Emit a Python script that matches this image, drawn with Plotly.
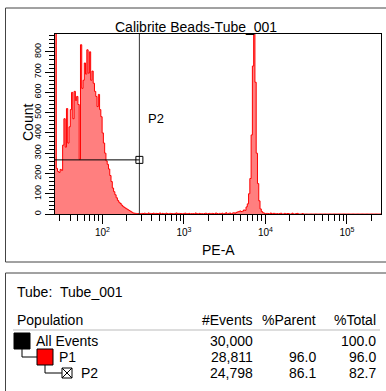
import numpy as np
import plotly.graph_objects as go

# ---------------- data ----------------
TITLE = "Calibrite Beads-Tube_001"
X_LABEL = "PE-A"
Y_LABEL = "Count"

LOG_MIN, LOG_MAX = 1.418, 5.418     # display range of PE-A (log10)
N_BINS = 256
Y_MAX = 888

# histogram counts per bin
counts_left = [2500, 225, 210, 205, 220, 215, 340, 470, 330, 520, 350, 430, 515, 600, 470, 605,
               560, 580, 540, 270, 835, 620, 660, 745, 690, 810, 695, 800, 660, 705, 645, 605,
               580, 530, 590, 515, 480, 400, 350, 300, 262, 245, 222, 190, 160, 128, 110, 95,
               80, 67, 58, 52, 44, 38, 33, 29, 25, 21, 17, 13, 9, 5, 4, 3,
               2, 2, 1, 2]
counts_mid = [3, 2, 4, 2, 0, 5, 3, 2, 2, 4, 0, 3,
              2, 2, 5, 0, 3, 2, 0, 4, 2, 0, 3, 2,
              2, 0, 3, 5, 0, 3, 2, 2, 0, 3, 4, 0,
              2, 3, 0, 2, 2, 0, 5, 2, 0, 3, 2, 2,
              0, 2, 4, 0, 2, 3, 0, 3, 2, 0, 5, 2,
              0, 3, 2, 4, 0, 2, 6, 0, 3, 5, 0, 4,
              6, 3, 8, 10, 12, 15, 12, 14, 20, 18, 35, 50]
counts_peak = [100, 175, 390, 730, 1100, 650, 300, 150, 65, 25, 12, 6]
counts_right = [4, 0, 3, 2, 0, 5, 0, 3, 3, 0, 2, 0, 2, 4, 0, 0,
                3, 0, 2, 2, 0, 0, 4, 0, 0, 2, 3, 0, 0, 0, 2]
counts = counts_left + counts_mid + counts_peak + counts_right
counts = counts + [0] * (N_BINS - len(counts))

# P2 interval gate
GATE_NAME = "P2"
GATE_LO, GATE_HI, GATE_LEVEL = 10 ** LOG_MIN, 284, 267

# statistics table
TUBE = "Tube_001"
populations = ["All Events", "P1", "P2"]
events = [30000, 28811, 24798]
pct_parent = [None, 96.0, 86.1]
pct_total = [100.0, 96.0, 82.7]
pop_colors = ["#000000", "#FF0000", None]

x_major = [1e2, 1e3, 1e4, 1e5]
x_major_text = ["10<sup>2</sup>", "10<sup>3</sup>", "10<sup>4</sup>", "10<sup>5</sup>"]
x_minor = [m * 10 ** d for d in range(1, 6) for m in range(2, 10)]
x_minor = [v for v in x_minor if 10 ** LOG_MIN < v < 10 ** LOG_MAX]

# ---------------- figure ----------------
W, H = 386, 391
L, R, T, B = 55, 381, 34, 214
FONT = "Liberation Sans, Arial, sans-serif"


def PX(x):
    return (x - L) / (R - L)


def PY(y):
    return (B - y) / (B - T)


edges = 10 ** np.linspace(LOG_MIN, LOG_MAX, N_BINS + 1)
hx = list(edges[:-1]) + [edges[-1]]
hy = list(counts) + [counts[-1]]

fig = go.Figure()
fig.add_trace(go.Scatter(x=hx, y=hy, mode="lines", line=dict(color="#FF0000", width=1, shape="hv"),
                         fill="tozeroy", fillcolor="rgba(255,0,0,0.5)", hoverinfo="skip", showlegend=False))
# gate
fig.add_trace(go.Scatter(x=[GATE_HI, GATE_HI], y=[0, Y_MAX], mode="lines",
                         line=dict(color="#333333", width=1), showlegend=False, hoverinfo="skip"))
fig.add_trace(go.Scatter(x=[GATE_LO, GATE_HI], y=[GATE_LEVEL, GATE_LEVEL], mode="lines",
                         line=dict(color="black", width=1), showlegend=False, hoverinfo="skip"))
fig.add_trace(go.Scatter(x=[GATE_HI], y=[GATE_LEVEL], mode="markers",
                         marker=dict(symbol="square-open", size=7, color="black", line=dict(width=1)),
                         showlegend=False, hoverinfo="skip", cliponaxis=False))

shapes = []
ann = []
# panel frames
shapes.append(dict(type="rect", xref="paper", yref="paper", x0=PX(5.5), x1=PX(392), y0=PY(262), y1=PY(8),
                   line=dict(color="#444444", width=1)))
shapes.append(dict(type="rect", xref="paper", yref="paper", x0=PX(5.5), x1=PX(392), y0=PY(273), y1=PY(400),
                   line=dict(color="#444444", width=1)))

ann.append(dict(text=TITLE, x=PX(196), y=PY(27), xref="paper", yref="paper", showarrow=False,
                xanchor="center", yanchor="middle", font=dict(size=14, color="black", family=FONT)))
ann.append(dict(text=GATE_NAME, x=PX(146), y=PY(118), xref="paper", yref="paper", showarrow=False,
                xanchor="left", yanchor="middle", font=dict(size=13, color="black", family=FONT)))
ann.append(dict(text=Y_LABEL, x=PX(28), y=PY(123), xref="paper", yref="paper", showarrow=False,
                xanchor="center", yanchor="middle", textangle=-90,
                font=dict(size=14, color="black", family=FONT)))
ann.append(dict(text=X_LABEL, x=PX(218), y=PY(250), xref="paper", yref="paper", showarrow=False,
                xanchor="center", yanchor="middle", font=dict(size=14, color="black", family=FONT)))

# table
tf = dict(size=14, color="black", family=FONT)
ann.append(dict(text="Tube:", x=PX(15), y=PY(292), xref="paper", yref="paper", showarrow=False,
                xanchor="left", yanchor="middle", font=tf))
ann.append(dict(text=TUBE, x=PX(58), y=PY(292), xref="paper", yref="paper", showarrow=False,
                xanchor="left", yanchor="middle", font=tf))
ann.append(dict(text="Population", x=PX(15), y=PY(320), xref="paper", yref="paper", showarrow=False,
                xanchor="left", yanchor="middle", font=tf))
for txt, xr in [("#Events", 255), ("%Parent", 318), ("%Total", 378)]:
    ann.append(dict(text=txt, x=PX(xr), y=PY(320), xref="paper", yref="paper", showarrow=False,
                    xanchor="right", yanchor="middle", font=tf))
shapes.append(dict(type="line", xref="paper", yref="paper", x0=PX(13), x1=PX(380), y0=PY(330), y1=PY(330),
                   line=dict(color="#BBBBBB", width=1)))

row_y = [341, 357, 373]
indent = [0, 23, 46]
for i, name in enumerate(populations):
    y = row_y[i]
    ix = indent[i]
    if pop_colors[i] is not None:
        shapes.append(dict(type="rect", xref="paper", yref="paper", x0=PX(14 + ix), x1=PX(30 + ix),
                           y0=PY(y + 8), y1=PY(y - 8), fillcolor=pop_colors[i], line=dict(color="black", width=1)))
        tx = 33 + ix
    else:
        bx = 16 + ix
        shapes.append(dict(type="rect", xref="paper", yref="paper", x0=PX(bx), x1=PX(bx + 10),
                           y0=PY(y + 5), y1=PY(y - 5), fillcolor="white", line=dict(color="black", width=1)))
        shapes.append(dict(type="line", xref="paper", yref="paper", x0=PX(bx), x1=PX(bx + 10),
                           y0=PY(y + 5), y1=PY(y - 5), line=dict(color="black", width=1)))
        shapes.append(dict(type="line", xref="paper", yref="paper", x0=PX(bx), x1=PX(bx + 10),
                           y0=PY(y - 5), y1=PY(y + 5), line=dict(color="black", width=1)))
        tx = 32 + ix
    if i > 0:
        px = 22 + indent[i - 1]
        top = row_y[i - 1] + 8
        shapes.append(dict(type="line", xref="paper", yref="paper", x0=PX(px), x1=PX(px),
                           y0=PY(top), y1=PY(y), line=dict(color="black", width=1)))
        xr = 14 + ix if pop_colors[i] is not None else 16 + ix
        shapes.append(dict(type="line", xref="paper", yref="paper", x0=PX(px), x1=PX(xr),
                           y0=PY(y), y1=PY(y), line=dict(color="black", width=1)))
    ann.append(dict(text=name, x=PX(tx + 1), y=PY(y), xref="paper", yref="paper", showarrow=False,
                    xanchor="left", yanchor="middle", font=tf))
    ann.append(dict(text=f"{events[i]:,}", x=PX(255), y=PY(y), xref="paper", yref="paper", showarrow=False,
                    xanchor="right", yanchor="middle", font=tf))
    if pct_parent[i] is not None:
        ann.append(dict(text=f"{pct_parent[i]:.1f}", x=PX(318), y=PY(y), xref="paper", yref="paper",
                        showarrow=False, xanchor="right", yanchor="middle", font=tf))
    ann.append(dict(text=f"{pct_total[i]:.1f}", x=PX(378), y=PY(y), xref="paper", yref="paper", showarrow=False,
                    xanchor="right", yanchor="middle", font=tf))

fig.update_layout(
    width=W, height=H,
    margin=dict(l=L, r=W - R, t=T, b=H - B, pad=0),
    paper_bgcolor="white", plot_bgcolor="white",
    showlegend=False,
    shapes=shapes, annotations=ann,
    font=dict(family=FONT, color="black"),
)
fig.update_xaxes(
    type="log", range=[LOG_MIN, LOG_MAX], automargin=False,
    showline=True, linecolor="black", linewidth=1, mirror=True,
    showgrid=False, zeroline=False,
    ticks="outside", ticklen=9, tickcolor="black", tickwidth=1,
    tickmode="array", tickvals=x_major, ticktext=x_major_text,
    tickfont=dict(size=10, family=FONT, color="black"),
    minor=dict(ticks="outside", ticklen=6, tickcolor="black", tickwidth=1, tickmode="array", tickvals=x_minor,
               showgrid=False),
)
fig.update_yaxes(
    range=[0, Y_MAX], automargin=False,
    showline=True, linecolor="black", linewidth=1, mirror=True,
    showgrid=False, zeroline=False,
    ticks="outside", ticklen=9, tickcolor="black", tickwidth=1,
    tickmode="linear", tick0=0, dtick=100, tickangle=-90,
    tickfont=dict(size=9, family=FONT, color="black"),
    minor=dict(ticks="outside", ticklen=5, tickcolor="black", tickwidth=1, dtick=20, showgrid=False),
)

fig.write_html("out.html", config={"displayModeBar": False},
               post_script="document.body.style.margin='0px';document.body.style.overflow='hidden';")
